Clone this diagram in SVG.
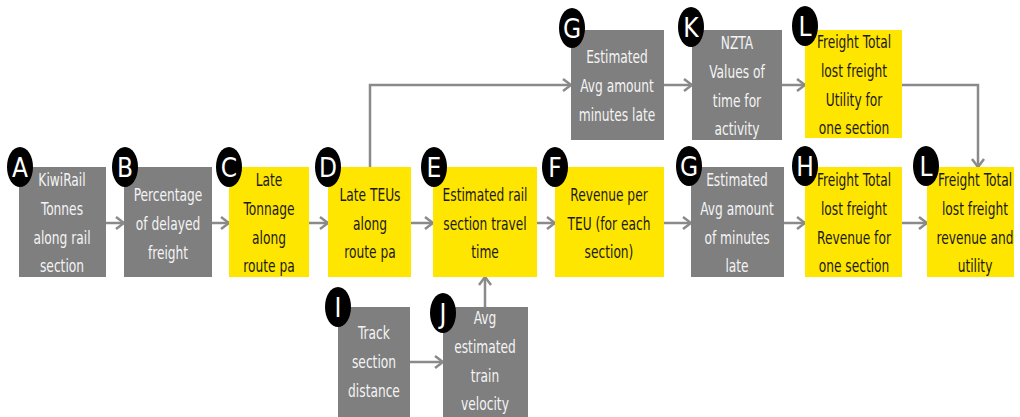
<svg xmlns="http://www.w3.org/2000/svg" width="1020" height="417" viewBox="0 0 1020 417">
  <defs>
    <style>
      .g { fill: #7f7f7f; }
      .y { fill: #ffe600; }
      .t { font-family: "Liberation Sans Narrow", "DejaVu Sans", sans-serif; font-stretch: condensed; font-size: 17px; text-anchor: middle; }
      .tw { fill: #f4f4f4; }
      .tb { fill: #1a1a1a; }
      .badge { fill: #000; }
      .bl { font-family: "Liberation Sans Narrow", "DejaVu Sans", sans-serif; font-stretch: condensed; font-size: 26px; fill: #fff; text-anchor: middle; }
      .c { fill: none; stroke: #8a8a8a; stroke-width: 2.5; }
    </style>
    <marker id="arr" viewBox="0 0 10 14" refX="9" refY="7" markerWidth="10" markerHeight="14" markerUnits="userSpaceOnUse" orient="auto">
      <path d="M1,1 L9,7 L1,13" fill="none" stroke="#8a8a8a" stroke-width="2.5"/>
    </marker>
  </defs>

  <!-- connectors -->
  <g id="connectors" class="c" marker-end="url(#arr)">
    <line x1="106" y1="223" x2="124" y2="223"/>
    <line x1="212" y1="223" x2="229" y2="223"/>
    <line x1="309" y1="223" x2="328" y2="223"/>
    <line x1="411" y1="223" x2="433" y2="223"/>
    <line x1="537" y1="223" x2="555" y2="223"/>
    <line x1="664" y1="223" x2="691" y2="223"/>
    <line x1="784" y1="223" x2="805" y2="223"/>
    <line x1="902" y1="223" x2="927" y2="223"/>
    <polyline points="370,167 370,85 571,85"/>
    <line x1="664" y1="85" x2="692" y2="85"/>
    <line x1="782" y1="85" x2="805" y2="85"/>
    <polyline points="902,85 978,85 978,167"/>
    <line x1="410" y1="362" x2="443" y2="362"/>
    <line x1="485" y1="307" x2="485" y2="277"/>
  </g>

  <!-- main row (labels are squeezed horizontally to a narrow face) -->
  <g id="A">
    <rect class="g" x="19" y="167" width="87" height="110"/>
    <text class="t tw" transform="translate(62 186) scale(0.8 1)"><tspan x="0">KiwiRail</tspan><tspan x="0" dy="29">Tonnes</tspan><tspan x="0" dy="29">along rail</tspan><tspan x="0" dy="28">section</tspan></text>
    <ellipse class="badge" cx="20" cy="167" rx="13" ry="20"/>
    <text class="bl" x="20" y="177">A</text>
  </g>
  <g id="B">
    <rect class="g" x="124" y="167" width="88" height="110"/>
    <text class="t tw" transform="translate(168 201) scale(0.8 1)"><tspan x="0">Percentage</tspan><tspan x="0" dy="29">of delayed</tspan><tspan x="0" dy="29">freight</tspan></text>
    <ellipse class="badge" cx="125" cy="167" rx="13" ry="20"/>
    <text class="bl" x="125" y="177">B</text>
  </g>
  <g id="C">
    <rect class="y" x="229" y="167" width="80" height="110"/>
    <text class="t tb" transform="translate(269 186) scale(0.8 1)"><tspan x="0">Late</tspan><tspan x="0" dy="29">Tonnage</tspan><tspan x="0" dy="29">along</tspan><tspan x="0" dy="28">route pa</tspan></text>
    <ellipse class="badge" cx="229" cy="167" rx="13" ry="20"/>
    <text class="bl" x="229" y="177">C</text>
  </g>
  <g id="D">
    <rect class="y" x="328" y="167" width="83" height="110"/>
    <text class="t tb" transform="translate(370 201) scale(0.8 1)"><tspan x="0">Late TEUs</tspan><tspan x="0" dy="29">along</tspan><tspan x="0" dy="28">route pa</tspan></text>
    <ellipse class="badge" cx="328" cy="167" rx="13" ry="20"/>
    <text class="bl" x="328" y="177">D</text>
  </g>
  <g id="E">
    <rect class="y" x="433" y="167" width="104" height="110"/>
    <text class="t tb" transform="translate(485 201) scale(0.8 1)"><tspan x="0">Estimated rail</tspan><tspan x="0" dy="29">section travel</tspan><tspan x="0" dy="28">time</tspan></text>
    <ellipse class="badge" cx="434" cy="167" rx="13" ry="20"/>
    <text class="bl" x="434" y="177">E</text>
  </g>
  <g id="F">
    <rect class="y" x="555" y="167" width="109" height="110"/>
    <text class="t tb" transform="translate(609 201) scale(0.8 1)"><tspan x="0">Revenue per</tspan><tspan x="0" dy="29">TEU (for each</tspan><tspan x="0" dy="28">section)</tspan></text>
    <ellipse class="badge" cx="555" cy="167" rx="13" ry="20"/>
    <text class="bl" x="555" y="177">F</text>
  </g>
  <g id="G2">
    <rect class="g" x="691" y="167" width="93" height="110"/>
    <text class="t tw" transform="translate(737 186) scale(0.8 1)"><tspan x="0">Estimated</tspan><tspan x="0" dy="29">Avg amount</tspan><tspan x="0" dy="29">of minutes</tspan><tspan x="0" dy="28">late</tspan></text>
    <ellipse class="badge" cx="689" cy="166" rx="13" ry="20"/>
    <text class="bl" x="689" y="176">G</text>
  </g>
  <g id="H">
    <rect class="y" x="805" y="167" width="97" height="110"/>
    <text class="t tb" transform="translate(854 186) scale(0.8 1)"><tspan x="0">Freight Total</tspan><tspan x="0" dy="29">lost freight</tspan><tspan x="0" dy="29">Revenue for</tspan><tspan x="0" dy="28">one section</tspan></text>
    <ellipse class="badge" cx="805" cy="166" rx="13" ry="20"/>
    <text class="bl" x="805" y="176">H</text>
  </g>
  <g id="L2">
    <rect class="y" x="927" y="167" width="87" height="110"/>
    <text class="t tb" transform="translate(975 186) scale(0.8 1)"><tspan x="0">Freight Total</tspan><tspan x="0" dy="29">lost freight</tspan><tspan x="0" dy="29">revenue and</tspan><tspan x="0" dy="28">utility</tspan></text>
    <ellipse class="badge" cx="926" cy="166" rx="13" ry="20"/>
    <text class="bl" x="926" y="176">L</text>
  </g>

  <!-- top row -->
  <g id="G1">
    <rect class="g" x="571" y="30" width="93" height="110"/>
    <text class="t tw" transform="translate(617 63) scale(0.8 1)"><tspan x="0">Estimated</tspan><tspan x="0" dy="29">Avg amount</tspan><tspan x="0" dy="29">minutes late</tspan></text>
    <ellipse class="badge" cx="572" cy="28" rx="13" ry="20"/>
    <text class="bl" x="572" y="38">G</text>
  </g>
  <g id="K">
    <rect class="g" x="692" y="30" width="90" height="110"/>
    <text class="t tw" transform="translate(737 49) scale(0.8 1)"><tspan x="0">NZTA</tspan><tspan x="0" dy="29">Values of</tspan><tspan x="0" dy="29">time for</tspan><tspan x="0" dy="28">activity</tspan></text>
    <ellipse class="badge" cx="691" cy="27" rx="13" ry="20"/>
    <text class="bl" x="691" y="37">K</text>
  </g>
  <g id="L1">
    <rect class="y" x="805" y="30" width="97" height="108"/>
    <text class="t tb" transform="translate(854 48) scale(0.8 1)"><tspan x="0">Freight Total</tspan><tspan x="0" dy="29">lost freight</tspan><tspan x="0" dy="29">Utility for</tspan><tspan x="0" dy="28">one section</tspan></text>
    <ellipse class="badge" cx="805" cy="26" rx="13" ry="20"/>
    <text class="bl" x="805" y="36">L</text>
  </g>

  <!-- bottom row -->
  <g id="I">
    <rect class="g" x="338" y="307" width="72" height="115"/>
    <text class="t tw" transform="translate(374 339) scale(0.8 1)"><tspan x="0">Track</tspan><tspan x="0" dy="29">section</tspan><tspan x="0" dy="29">distance</tspan></text>
    <ellipse class="badge" cx="338" cy="307" rx="13" ry="20"/>
    <text class="bl" x="338" y="317">I</text>
  </g>
  <g id="J">
    <rect class="g" x="443" y="307" width="85" height="115"/>
    <text class="t tw" transform="translate(485 324) scale(0.8 1)"><tspan x="0">Avg</tspan><tspan x="0" dy="29">estimated</tspan><tspan x="0" dy="29">train</tspan><tspan x="0" dy="28">velocity</tspan></text>
    <ellipse class="badge" cx="443" cy="313" rx="13" ry="20"/>
    <text class="bl" x="443" y="323">J</text>
  </g>
</svg>
